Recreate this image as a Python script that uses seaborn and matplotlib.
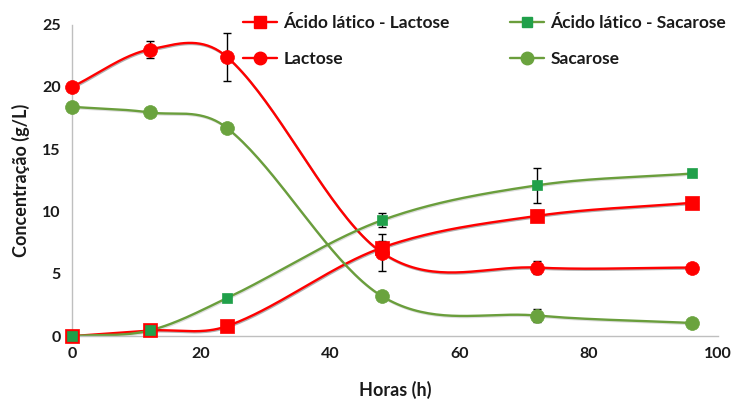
import numpy as np
import pandas as pd
import matplotlib
matplotlib.use("Agg")
import matplotlib.pyplot as plt
import matplotlib.patheffects as pe
from matplotlib.lines import Line2D
import seaborn as sns

# Sampling times (h)
horas = [0, 12, 24, 48, 72, 96]

# Concentrations (g/L)
lactose = [20.0, 23.0, 22.4, 6.7, 5.5, 5.5]
sacarose = [18.4, 17.95, 16.7, 3.2, 1.65, 1.05]
acido_lactose = [0.0, 0.45, 0.8, 7.1, 9.65, 10.7]
acido_sacarose = [0.0, 0.45, 3.05, 9.3, 12.1, 13.05]

# Standard deviations
err_lactose = [0.0, 0.7, 1.9, 1.5, 0.55, 0.0]
err_sacarose = [0.0, 0.3, 0.0, 0.3, 0.55, 0.0]
err_acido_lactose = [0.0, 0.0, 0.0, 0.5, 0.45, 0.0]
err_acido_sacarose = [0.0, 0.0, 0.0, 0.55, 1.4, 0.0]

labels = ["Ácido lático - Lactose", "Lactose", "Ácido lático - Sacarose", "Sacarose"]

RED = "#FF0000"
GREEN_LINE = "#6A9E3C"
GREEN_SQ = "#20A04A"
GREEN_CIR = "#6AA33E"


def smooth(x, y, n=40):
    """Cubic Bezier smoothing through every point, tangents scaled by the x spacing."""
    x = np.asarray(x, float)
    y = np.asarray(y, float)
    pts = np.column_stack([x, y])
    m = len(pts)
    out = []
    for i in range(m - 1):
        p1, p2 = pts[i], pts[i + 1]
        h = p2[0] - p1[0]
        if i > 0:
            p0 = pts[i - 1]
            c1 = p1 + (p2 - p0) * h / (p2[0] - p0[0]) / 3.0
        else:
            c1 = p1 + (p2 - p1) / 3.0
        if i + 2 < m:
            p3 = pts[i + 2]
            c2 = p2 - (p3 - p1) * h / (p3[0] - p1[0]) / 3.0
        else:
            c2 = p2 - (p2 - p1) / 3.0
        t = np.linspace(0, 1, n, endpoint=(i == m - 2))[:, None]
        seg = ((1 - t) ** 3) * p1 + 3 * ((1 - t) ** 2) * t * c1 + 3 * (1 - t) * t ** 2 * c2 + t ** 3 * p2
        out.append(seg)
    out = np.vstack(out)
    return out[:, 0], out[:, 1]


sns.set_theme(style="white")
plt.rcParams["font.family"] = ["Lato", "DejaVu Sans"]
plt.rcParams["font.weight"] = "bold"

fig = plt.figure(figsize=(7.31, 4.03), dpi=100)
ax = fig.add_axes([0.0985, 0.166, 0.8835, 0.773])

series = [
    (acido_lactose, err_acido_lactose, RED, RED, "s", 10),
    (lactose, err_lactose, RED, RED, "o", 10),
    (acido_sacarose, err_acido_sacarose, GREEN_LINE, GREEN_SQ, "s", 7.5),
    (sacarose, err_sacarose, GREEN_LINE, GREEN_CIR, "o", 10),
]

for (vals, errs, lc, mc, mk, ms), lab in zip(series, labels):
    sx, sy = smooth(horas, vals)
    curve = pd.DataFrame({"x": sx, "y": sy})
    sns.lineplot(data=curve, x="x", y="y", ax=ax, color=lc, lw=1.7,
                 sort=False, estimator=None, zorder=2)
    alpha = 0.35 if lc == RED else 0.15
    ax.lines[-1].set_path_effects([
        pe.SimpleLineShadow(offset=(0.6, -0.8), shadow_color="#202020", alpha=alpha),
        pe.Normal()])
    ax.errorbar(horas, vals, yerr=errs, fmt="none", ecolor="black",
                elinewidth=1.0, capsize=3, capthick=1.0, zorder=3)
    pts = pd.DataFrame({"x": horas, "y": vals})
    sns.scatterplot(data=pts, x="x", y="y", ax=ax, marker=mk, s=ms ** 2,
                    color=mc, edgecolor=mc, linewidth=0.5, zorder=4, clip_on=False)

ax.set_xlim(0, 100)
ax.set_ylim(0, 25)
ax.set_xticks([0, 20, 40, 60, 80, 100])
ax.set_yticks([0, 5, 10, 15, 20, 25])
ax.tick_params(axis="both", length=0, labelsize=11.5, pad=8)
for t in ax.get_xticklabels() + ax.get_yticklabels():
    t.set_fontweight("bold")
    t.set_color("#1a1a1a")

for side in ["top", "right"]:
    ax.spines[side].set_visible(False)
for side in ["left", "bottom"]:
    ax.spines[side].set_color("#BFBFBF")
    ax.spines[side].set_linewidth(1.0)

ax.set_xlabel("Horas (h)", fontsize=13, fontweight="bold", color="#1a1a1a", labelpad=14)
ax.set_ylabel("Concentração (g/L)", fontsize=13, fontweight="bold", color="#1a1a1a", labelpad=9)

handles = []
for (vals, errs, lc, mc, mk, ms), lab in zip(series, labels):
    handles.append(Line2D([0], [0], color=lc, lw=1.7, marker=mk, markersize=ms * 0.9,
                          markerfacecolor=mc, markeredgecolor=mc, label=lab))

leg = ax.legend(handles=handles, ncol=2, loc="upper left", bbox_to_anchor=(0.24, 1.08),
                frameon=False, fontsize=12.5, handlelength=2.0, handletextpad=0.35,
                columnspacing=3.45, labelspacing=1.15)
for t in leg.get_texts():
    t.set_fontweight("bold")
    t.set_color("#1a1a1a")

fig.savefig("out.png", dpi=100, facecolor="white")
